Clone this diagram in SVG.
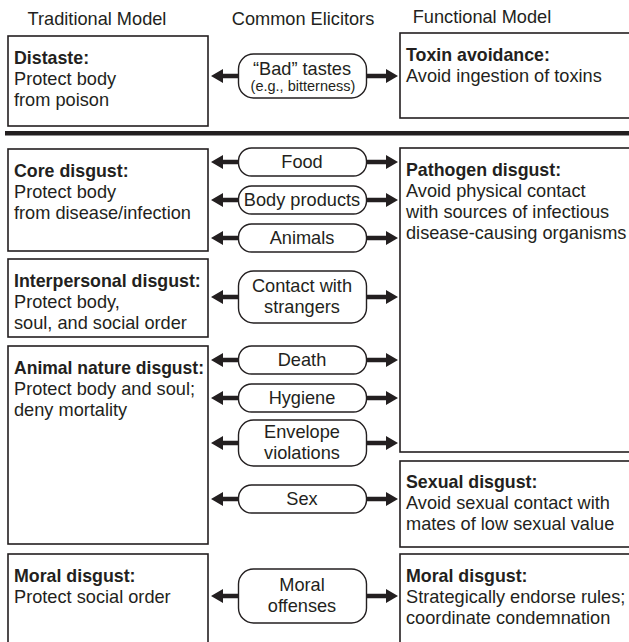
<svg xmlns="http://www.w3.org/2000/svg" xmlns:xlink="http://www.w3.org/1999/xlink" width="629" height="642" viewBox="0 0 629 642">
<style>
text{font-family:"Liberation Sans",Arial,sans-serif;fill:#231f20}
.h{font-size:18.2px}
.b{font-size:17.8px;font-weight:bold}
.t{font-size:18.2px}
.p{font-size:18.2px;text-anchor:middle}
.s{font-size:14.5px;text-anchor:middle}
.box{fill:#fff;stroke:#231f20;stroke-width:1.6}
.pill{fill:#fff;stroke:#231f20;stroke-width:1.4}
.ar{fill:#231f20}
</style>
<defs>
<path id="aL" class="ar" d="M211,0 L223,-7 L223,-2.2 L238,-2.2 L238,2.2 L223,2.2 L223,7 Z"/>
<path id="aR" class="ar" d="M398,0 L386,-7 L386,-2.2 L367,-2.2 L367,2.2 L386,2.2 L386,7 Z"/>
</defs>
<rect width="629" height="642" fill="#fff"/>

<g id="headers">
<text class="h" x="97" y="25" text-anchor="middle">Traditional Model</text>
<text class="h" x="303" y="25" text-anchor="middle">Common Elicitors</text>
<text class="h" x="482" y="23" text-anchor="middle">Functional Model</text>
</g>

<rect id="divider" x="5" y="131" width="630" height="4.5" fill="#231f20"/>

<g id="distaste">
<rect class="box" x="8" y="36" width="200" height="90"/>
<text class="b" x="14" y="64">Distaste:</text>
<text class="t" x="14" y="85">Protect body</text>
<text class="t" x="14" y="106">from poison</text>
</g>
<g id="toxin">
<rect class="box" x="400" y="33" width="260" height="85"/>
<text class="b" x="406" y="61">Toxin avoidance:</text>
<text class="t" x="406" y="82">Avoid ingestion of toxins</text>
</g>

<g id="core">
<rect class="box" x="8" y="149" width="200" height="102"/>
<text class="b" x="14" y="177">Core disgust:</text>
<text class="t" x="14" y="198">Protect body</text>
<text class="t" x="14" y="219">from disease/infection</text>
</g>
<g id="interpersonal">
<rect class="box" x="8" y="259" width="200" height="78"/>
<text class="b" x="14" y="287">Interpersonal disgust:</text>
<text class="t" x="14" y="308">Protect body,</text>
<text class="t" x="14" y="329">soul, and social order</text>
</g>
<g id="animalnature">
<rect class="box" x="8" y="346" width="200" height="198"/>
<text class="b" x="14" y="374" textLength="190" lengthAdjust="spacingAndGlyphs">Animal nature disgust:</text>
<text class="t" x="14" y="395">Protect body and soul;</text>
<text class="t" x="14" y="416">deny mortality</text>
</g>
<g id="moralL">
<rect class="box" x="8" y="554" width="200" height="100"/>
<text class="b" x="14" y="582">Moral disgust:</text>
<text class="t" x="14" y="603">Protect social order</text>
</g>

<g id="pathogen">
<rect class="box" x="400" y="148" width="260" height="304"/>
<text class="b" x="406" y="176">Pathogen disgust:</text>
<text class="t" x="406" y="197">Avoid physical contact</text>
<text class="t" x="406" y="218">with sources of infectious</text>
<text class="t" x="406" y="239">disease-causing organisms</text>
</g>
<g id="sexual">
<rect class="box" x="400" y="461" width="260" height="86"/>
<text class="b" x="406" y="488">Sexual disgust:</text>
<text class="t" x="406" y="509">Avoid sexual contact with</text>
<text class="t" x="406" y="530">mates of low sexual value</text>
</g>
<g id="moralR">
<rect class="box" x="400" y="554" width="260" height="100"/>
<text class="b" x="406" y="582">Moral disgust:</text>
<text class="t" x="406" y="603">Strategically endorse rules;</text>
<text class="t" x="406" y="624">coordinate condemnation</text>
</g>

<g id="badtastes">
<rect class="pill" x="238.5" y="54" width="128" height="44" rx="15"/>
<text class="p" x="302" y="75">“Bad” tastes</text>
<text class="s" x="303" y="91">(e.g., bitterness)</text>
</g>
<g id="food">
<rect class="pill" x="238.5" y="148" width="128" height="28" rx="13"/>
<text class="p" x="302" y="168">Food</text>
</g>
<g id="bodyproducts">
<rect class="pill" x="238.5" y="186" width="128" height="28" rx="13"/>
<text class="p" x="302" y="206">Body products</text>
</g>
<g id="animals">
<rect class="pill" x="238.5" y="224" width="128" height="28" rx="13"/>
<text class="p" x="302" y="244">Animals</text>
</g>
<g id="strangers">
<rect class="pill" x="238.5" y="271" width="128" height="52" rx="15"/>
<text class="p" x="302" y="292">Contact with</text>
<text class="p" x="302" y="313">strangers</text>
</g>
<g id="death">
<rect class="pill" x="238.5" y="346" width="128" height="28" rx="13"/>
<text class="p" x="302" y="366">Death</text>
</g>
<g id="hygiene">
<rect class="pill" x="238.5" y="384" width="128" height="28" rx="13"/>
<text class="p" x="302" y="404">Hygiene</text>
</g>
<g id="envelope">
<rect class="pill" x="238.5" y="420" width="128" height="46" rx="15"/>
<text class="p" x="302" y="438">Envelope</text>
<text class="p" x="302" y="459">violations</text>
</g>
<g id="sex">
<rect class="pill" x="238.5" y="485" width="128" height="28" rx="13"/>
<text class="p" x="302" y="505">Sex</text>
</g>
<g id="moraloffenses">
<rect class="pill" x="238.5" y="569" width="128" height="54" rx="15"/>
<text class="p" x="302" y="591">Moral</text>
<text class="p" x="302" y="612">offenses</text>
</g>

<g id="connectors">
<use xlink:href="#aL" y="76"/><use xlink:href="#aR" y="76"/>
<use xlink:href="#aL" y="162"/><use xlink:href="#aR" y="162"/>
<use xlink:href="#aL" y="200"/><use xlink:href="#aR" y="200"/>
<use xlink:href="#aL" y="238"/><use xlink:href="#aR" y="238"/>
<use xlink:href="#aL" y="297"/><use xlink:href="#aR" y="297"/>
<use xlink:href="#aL" y="360"/><use xlink:href="#aR" y="360"/>
<use xlink:href="#aL" y="398"/><use xlink:href="#aR" y="398"/>
<use xlink:href="#aL" y="443"/><use xlink:href="#aR" y="443"/>
<use xlink:href="#aL" y="499"/><use xlink:href="#aR" y="499"/>
<use xlink:href="#aL" y="596"/><use xlink:href="#aR" y="596"/>
</g>
</svg>
